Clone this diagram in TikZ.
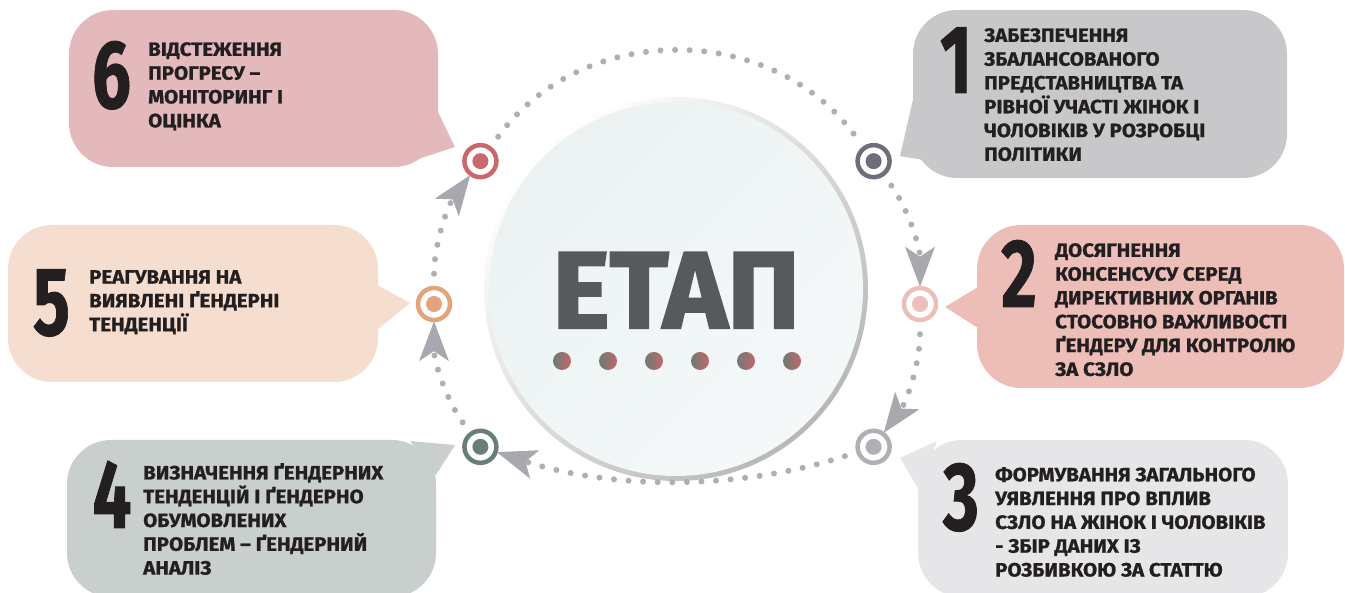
\documentclass[tikz,border=0pt]{standalone}
\usepackage{graphicx}
\usepackage{fontspec}
\setmainfont{Fira Sans}
\newfontfamily\stepfont{Fira Sans}[FakeStretch=1.06, FakeBold=1]
\newfontfamily\etapfont{Fira Sans}[FakeBold=2]
\usetikzlibrary{arrows.meta, positioning}

\definecolor{ink}{HTML}{231F20}
\definecolor{etapgray}{HTML}{58595B}
\definecolor{dotgray}{HTML}{AEAFB4}
\definecolor{arrgray}{HTML}{A8A9AE}
\definecolor{fillone}{HTML}{C8C8CB}
\definecolor{filltwo}{HTML}{EDBDB8}
\definecolor{fillthree}{HTML}{E6E6E8}
\definecolor{fillfour}{HTML}{C9CFCC}
\definecolor{fillfive}{HTML}{F5DED0}
\definecolor{fillsix}{HTML}{E4B9BB}
\definecolor{markone}{HTML}{6D6D7B}
\definecolor{marktwo}{HTML}{EDBFBA}
\definecolor{markthree}{HTML}{AFAFB4}
\definecolor{markfour}{HTML}{687F75}
\definecolor{markfive}{HTML}{E2A47D}
\definecolor{marksix}{HTML}{C8696E}
\definecolor{dotleft}{HTML}{6D7B74}
\definecolor{dotright}{HTML}{C3676A}
\definecolor{coretop}{HTML}{ECF2F2}
\definecolor{corebottom}{HTML}{F4F8F8}

\newcommand{\bignum}[1]{\scalebox{0.67}[1]{#1}}

\tikzset{
  bubble/.style={fill=#1, rounded corners=44pt, inner sep=0pt},
  numtxt/.style={inner sep=0pt, anchor=base, text=ink, font=\stepfont\bfseries\fontsize{97}{97}\selectfont},
  steptext/.style={inner sep=0pt, anchor=north west, align=left, text=ink, font=\stepfont\bfseries\fontsize{19.3}{23.8}\selectfont},
  ring/.style={circle, draw=#1, line width=4.5pt, fill=white, minimum size=32pt, inner sep=0pt,
    path picture={\fill[#1] (path picture bounding box.center) circle (8pt);}},
  dotline/.style={draw=dotgray, line width=6pt, line cap=round, dash pattern=on 0pt off 14.6pt, shorten <=12pt},
  arr/.style={-{Stealth[length=40pt 0 0, width=30pt 0, inset=10pt 0, line width=0pt, color=arrgray]}, shorten >=-1pt}
}

\begin{document}
\begin{tikzpicture}[x=1pt, y=1pt]
  \useasboundingbox (0,0) rectangle (1345,593);

  % speech bubbles
  \node [bubble=fillsix, minimum width=369pt, minimum height=157pt] (b6) at (253.5,504.5) {};
  \node [bubble=fillone, minimum width=374pt, minimum height=168pt] (b1) at (1100,499) {};
  \node [bubble=filltwo, minimum width=367pt, minimum height=163pt] (b2) at (1160.5,286.5) {};
  \node [bubble=fillfive, minimum width=370pt, minimum height=157pt] (b5) at (193,289.5) {};
  \node [bubble=fillfour, minimum width=369pt, minimum height=157pt] (b4) at (251.5,74.5) {};
  \node [bubble=fillthree, minimum width=370pt, minimum height=157pt] (b3) at (1103,74.5) {};

  % tails
  \fill [fillsix] (437,483) -- (455,446) -- (400,428) -- cycle;
  \fill [fillone] (914,498) -- (900,437) -- (940,430) -- cycle;
  \fill [filltwo] (978,306) -- (945,286) -- (978,265) -- cycle;
  \fill [fillfive] (377,308) -- (410,290) -- (377,263) -- cycle;
  \fill [fillfour] (410,152) -- (455,148) -- (436,118) -- cycle;
  \fill [fillthree] (937,152) -- (900,135) -- (919,103) -- cycle;

  % numbers
  \node [numtxt] (n6) at (111.5,485) {\bignum{6}};
  \node [numtxt] (n1) at (956,500) {\bignum{1}};
  \node [numtxt] (n2) at (1019,286) {\bignum{2}};
  \node [numtxt] (n5) at (51.5,258) {\bignum{5}};
  \node [numtxt] (n4) at (112,65) {\bignum{4}};
  \node [numtxt] (n3) at (961,63) {\bignum{3}};

  % texts
  \node [steptext] (s6) at (148,551) {ВІДСТЕЖЕННЯ\\ПРОГРЕСУ –\\МОНІТОРИНГ І\\ОЦІНКА};
  \node [steptext] (s1) at (984,565) {ЗАБЕЗПЕЧЕННЯ\\ЗБАЛАНСОВАНОГО\\ПРЕДСТАВНИЦТВА ТА\\РІВНОЇ УЧАСТІ ЖІНОК І\\ЧОЛОВІКІВ У РОЗРОБЦІ\\ПОЛІТИКИ};
  \node [steptext] (s2) at (1055,350) {ДОСЯГНЕННЯ\\КОНСЕНСУСУ СЕРЕД\\ДИРЕКТИВНИХ ОРГАНІВ\\СТОСОВНО ВАЖЛИВОСТІ\\ҐЕНДЕРУ ДЛЯ КОНТРОЛЮ\\ЗА СЗЛО};
  \node [steptext] (s5) at (89,323) {РЕАГУВАННЯ НА\\ВИЯВЛЕНІ ҐЕНДЕРНІ\\ТЕНДЕНЦІЇ};
  \node [steptext] (s4) at (143,130) {ВИЗНАЧЕННЯ ҐЕНДЕРНИХ\\ТЕНДЕНЦІЙ І ҐЕНДЕРНО\\ОБУМОВЛЕНИХ\\ПРОБЛЕМ – ҐЕНДЕРНИЙ\\АНАЛІЗ};
  \node [steptext] (s3) at (995,126) {ФОРМУВАННЯ ЗАГАЛЬНОГО\\УЯВЛЕННЯ ПРО ВПЛИВ\\СЗЛО НА ЖІНОК І ЧОЛОВІКІВ\\- ЗБІР ДАНИХ ІЗ\\РОЗБИВКОЮ ЗА СТАТТЮ};

  % central circle
  \coordinate (c) at (677,289);
  \shade [top color=white, bottom color=black!28, shading angle=45] (676,304) circle (192);
  \node [circle, minimum size=374pt, inner sep=0pt, top color=coretop, bottom color=corebottom, shading angle=45] (core) at (676,304) {};
  \node [inner sep=0pt, anchor=base, text=etapgray, font=\etapfont\bfseries\fontsize{109}{109}\selectfont] (etap) at (676,265) {ЕТАП};
  \foreach \i in {0,...,5}
    \shade [left color=dotleft, right color=dotright] (562+46*\i,232) circle (9);

  % stage markers
  \node [ring=markone] (m1) at ([shift={(36:243)}]c) {};
  \node [ring=marktwo] (m2) at ([shift={(0:243)}]c) {};
  \node [ring=markthree] (m3) at ([shift={(-36:243)}]c) {};
  \node [ring=markfour] (m4) at ([shift={(216:243)}]c) {};
  \node [ring=markfive] (m5) at ([shift={(180:243)}]c) {};
  \node [ring=marksix] (m6) at ([shift={(144:243)}]c) {};

  % dotted cycle
  \foreach \a/\b in {m1/m2, m2/m3, m3/m4, m4/m5, m5/m6}
    \draw [dotline, arr] (\a) to[bend left=18, looseness=0.87] (\b);
  \draw [dotline, shorten >=12pt] (m6) to[bend left=54, looseness=1.07] (m1);
\end{tikzpicture}
\end{document}
